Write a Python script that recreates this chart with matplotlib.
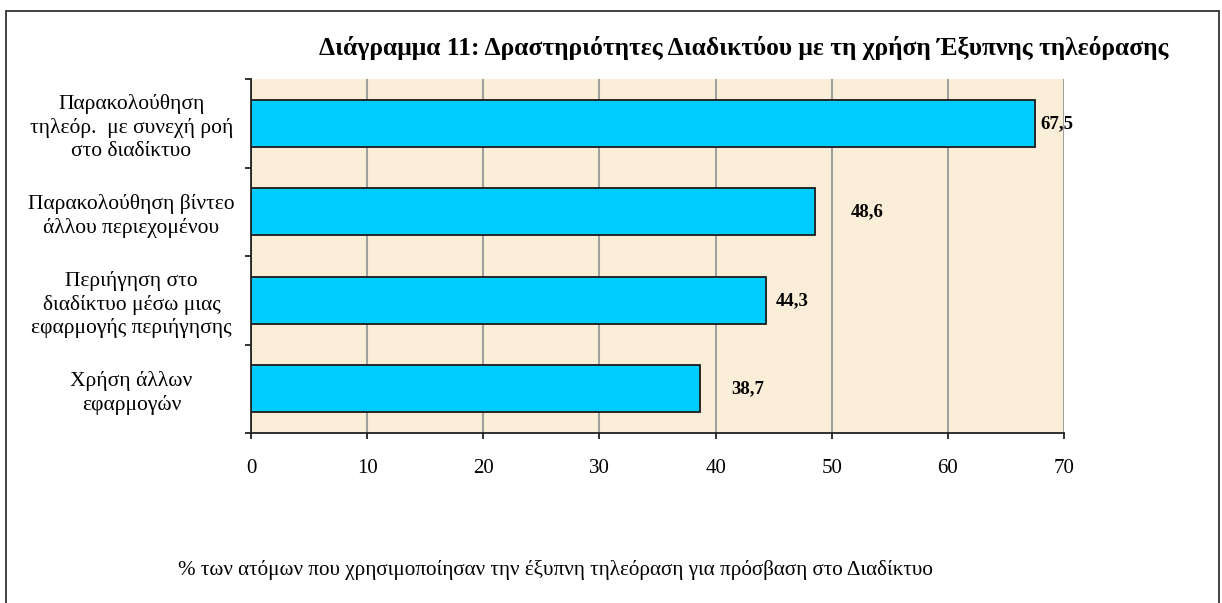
import matplotlib
matplotlib.use("Agg")
import matplotlib.pyplot as plt
from matplotlib.patches import Rectangle

categories = [
    "Παρακολούθηση\nτηλεόρ.  με συνεχή ροή\nστο διαδίκτυο",
    "Παρακολούθηση βίντεο\nάλλου περιεχομένου",
    "Περιήγηση στο\nδιαδίκτυο μέσω μιας\nεφαρμογής περιήγησης",
    "Χρήση άλλων\nεφαρμογών",
]
values = [67.5, 48.6, 44.3, 38.7]
value_labels = ["67,5", "48,6", "44,3", "38,7"]
x_ticks = [0, 10, 20, 30, 40, 50, 60, 70]
title = "Διάγραμμα 11: Δραστηριότητες Διαδικτύου με τη χρήση Έξυπνης τηλεόρασης"
footnote = "% των ατόμων που χρησιμοποίησαν την έξυπνη τηλεόραση για πρόσβαση στο Διαδίκτυο"

# label offsets in points (style)
label_offsets = [16, 37, 19.5, 34]

plt.rcParams['font.family'] = ['Liberation Serif', 'DejaVu Serif']

W, H = 1222, 603
fig = plt.figure(figsize=(W / 100, H / 100), dpi=100)
fig.patch.set_facecolor("white")

L, R, T, B = 251, 1064, 79, 433
ax = fig.add_axes([L / W, 1 - B / H, (R - L) / W, (B - T) / H])
ax.set_facecolor("#FAEED8")

ypos = list(range(len(categories)))
ax.barh(ypos, values, height=0.53, color="#00CCFF", edgecolor="#1a1a1a",
        linewidth=1.3, zorder=3)

for y, v, lab, off in zip(ypos, values, value_labels, label_offsets):
    ax.annotate(lab, xy=(v, y), xytext=(off, 0), textcoords="offset points",
                ha="center", va="center", fontsize=13.5, fontweight="bold",
                color="black", zorder=4)

ax.set_xlim(0, 70)
ax.set_ylim(len(categories) - 0.5, -0.5)
ax.set_xticks(x_ticks)
ax.set_xticklabels([str(t) for t in x_ticks], fontsize=15)
ax.xaxis.grid(True, color="#A0A0A0", linewidth=1.5, zorder=1)
ax.set_axisbelow(True)

ax.set_yticks(ypos)
ax.set_yticklabels(categories, fontsize=15.5, ha="center", linespacing=1.25)
ax.set_yticks([i - 0.5 for i in range(len(categories) + 1)], minor=True)
ax.tick_params(axis="y", which="major", length=0, pad=86)
ax.tick_params(axis="y", which="minor", length=4.5, width=1.3, color="#222222")
ax.tick_params(axis="x", which="major", length=4.5, width=1.3, color="#222222", pad=14)

for s in ["top", "right"]:
    ax.spines[s].set_visible(False)
for s in ["left", "bottom"]:
    ax.spines[s].set_color("#222222")
    ax.spines[s].set_linewidth(1.3)

fig.text(744 / W, 1 - 48 / H, title, ha="center", va="center",
         fontsize=18.4, fontweight="bold")
fig.text(178 / W, 1 - 570 / H, footnote, ha="left", va="center", fontsize=15.25)

fig.patches.append(Rectangle((6 / W, -0.05), (1219 - 6) / W, 1.05 - 11 / H,
                             transform=fig.transFigure, fill=False,
                             edgecolor="#333333", linewidth=1.3))

fig.savefig("out.png", dpi=100)
